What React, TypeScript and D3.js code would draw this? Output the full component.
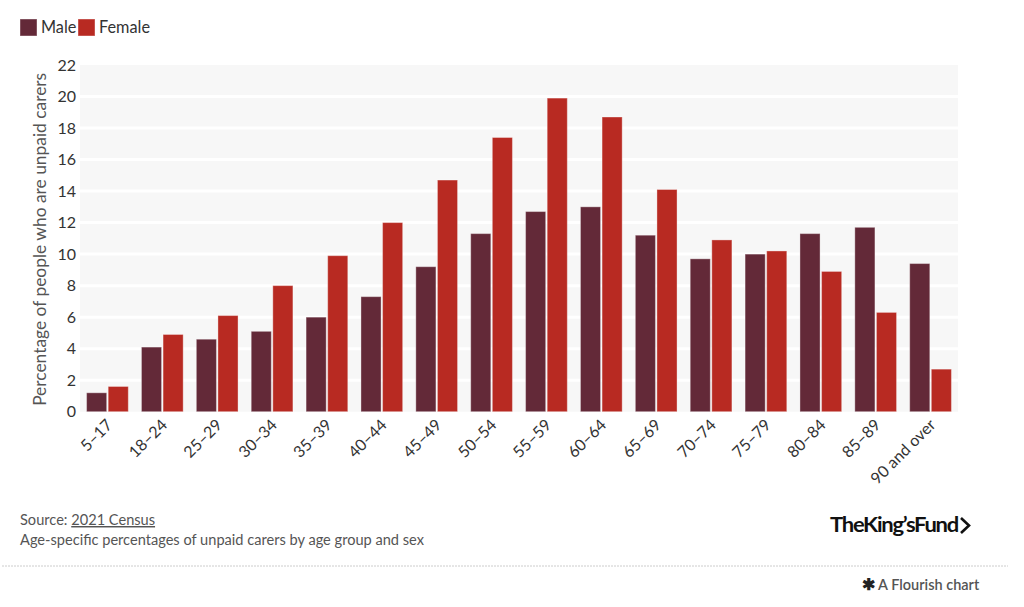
import React from 'react';
import * as d3 from 'd3';

const ageGroups = ['5–17', '18–24', '25–29', '30–34', '35–39', '40–44', '45–49', '50–54', '55–59', '60–64', '65–69', '70–74', '75–79', '80–84', '85–89', '90 and over'];
const maleValues = [1.2, 4.1, 4.6, 5.1, 6.0, 7.3, 9.2, 11.3, 12.7, 13.0, 11.2, 9.7, 10.0, 11.3, 11.7, 9.4];
const femaleValues = [1.6, 4.9, 6.1, 8.0, 9.9, 12.0, 14.7, 17.4, 19.9, 18.7, 14.1, 10.9, 10.2, 8.9, 6.3, 2.7];
const yTicks = [0, 2, 4, 6, 8, 10, 12, 14, 16, 18, 20, 22];
const series = [
  { key: 'Male', values: maleValues, color: '#632938' },
  { key: 'Female', values: femaleValues, color: '#b82a22' },
];

const FONT = 'Lato, "Source Sans Pro", sans-serif';

const App: React.FC = () => {
  const width = 1024;
  const height = 607;
  const left = 80;
  const right = 958;

  const x0 = d3.scaleBand<string>().domain(ageGroups).range([left, right]).paddingInner(0.24).paddingOuter(0.12);
  const x1 = d3.scaleBand<string>().domain(series.map(s => s.key)).range([0, x0.bandwidth()]).paddingInner(0.07);
  const y = d3.scaleLinear().domain([0, 22]).range([411.7, 65]);

  return (
    <svg width={width} height={height} style={{ position: 'absolute', left: 0, top: 0, fontFamily: FONT }}>
      <rect width={width} height={height} fill="#fff" />

      {/* legend */}
      {series.map((s, i) => {
        const lx = i === 0 ? 20 : 78;
        return (
          <g key={s.key} transform={`translate(${lx},19)`}>
            <rect width={17} height={17} fill={s.color} stroke="#fff" strokeOpacity={0.4} />
            <text x={21} y={14} fontSize={16.3} fill="#333">{s.key}</text>
          </g>
        );
      })}

      {/* plot background + gridlines */}
      <rect x={left} y={y(22)} width={right - left} height={y(0) - y(22)} fill="#f7f7f7" />
      {yTicks.map(t => (
        <g key={t}>
          {t > 0 && t < 22 && <line x1={left} x2={right} y1={y(t)} y2={y(t)} stroke="#fff" strokeWidth={3} />}
          <text x={76} y={y(t)} dy="0.35em" textAnchor="end" fontSize={16} fill="#333">{t}</text>
        </g>
      ))}

      <text transform={`translate(46,${(y(0) + y(22)) / 2 + 1}) rotate(-90)`} textAnchor="middle" fontSize={16.5} fill="#555" textLength={333} lengthAdjust="spacingAndGlyphs">
        Percentage of people who are unpaid carers
      </text>

      {/* bars */}
      {ageGroups.map((g, i) => (
        <g key={g} transform={`translate(${x0(g)},0)`}>
          {series.map(s => (
            <rect
              key={s.key}
              x={x1(s.key)}
              y={y(s.values[i])}
              width={x1.bandwidth()}
              height={y(0) - y(s.values[i])}
              fill={s.color}
              stroke="#fff"
              strokeOpacity={0.35}
              strokeWidth={1}
            />
          ))}
        </g>
      ))}

      {/* x labels */}
      {ageGroups.map(g => {
        const cx = (x0(g) as number) + x0.bandwidth() / 2;
        return (
          <text key={g} transform={`translate(${cx + 6},${426}) rotate(-45)`} textAnchor="end" fontSize={16} fill="#333">
            {g}
          </text>
        );
      })}

      {/* footer */}
      <text x={20} y={525} fontSize={14.6} fill="#555">
        Source: <tspan textDecoration="underline">2021 Census</tspan>
      </text>
      <text x={20} y={545} fontSize={14.6} fill="#555">Age-specific percentages of unpaid carers by age group and sex</text>

      <text x={830} y={532} fontSize={21} fontWeight={700} fill="#111" letterSpacing={-1.2} textLength={128} lengthAdjust="spacingAndGlyphs">
        TheKing’sFund
      </text>
      <path d="M961,518 L969,525.5 L961,533" fill="none" stroke="#111" strokeWidth={2.6} />

      <line x1={2} x2={1008} y1={566} y2={566} stroke="#ccc" strokeWidth={1} strokeDasharray="2,1" />

      <text x={862} y={590} fontSize={14.5} fill="#555" fontWeight={600}>
        <tspan fill="#222" fontSize={16}>✱</tspan> A Flourish chart
      </text>
    </svg>
  );
};

export default App;
